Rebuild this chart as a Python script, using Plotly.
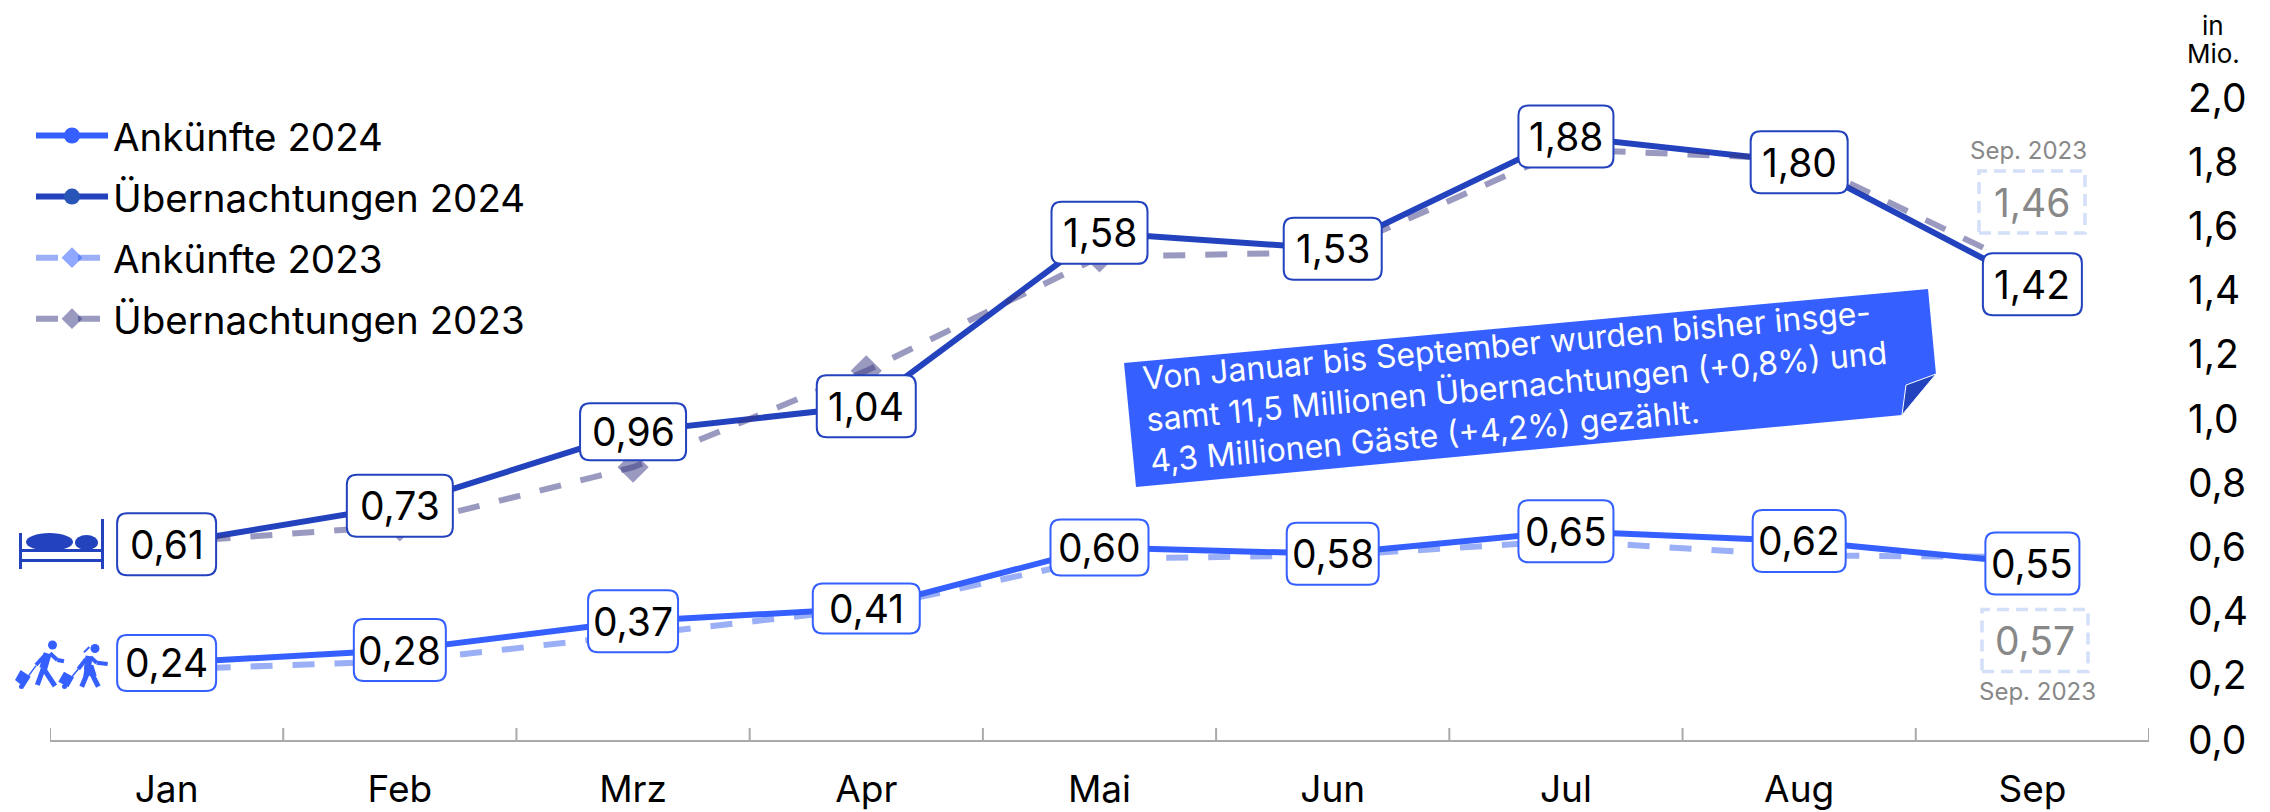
import plotly.graph_objects as go

months = ["Jan", "Feb", "Mrz", "Apr", "Mai", "Jun", "Jul", "Aug", "Sep"]
ankuenfte_2024 = [0.24, 0.28, 0.37, 0.41, 0.60, 0.58, 0.65, 0.62, 0.55]
uebernachtungen_2024 = [0.61, 0.73, 0.96, 1.04, 1.58, 1.53, 1.88, 1.80, 1.42]
ankuenfte_2023 = [0.22, 0.245, 0.327, 0.41, 0.565, 0.575, 0.62, 0.575, 0.57]
uebernachtungen_2023 = [0.615, 0.667, 0.85, 1.15, 1.505, 1.52, 1.84, 1.81, 1.46]

# label box sizes (px), one per month
ank_box_w = [99, 92, 90, 107, 98, 92, 95, 93, 94]
ank_box_h = [56, 62, 62, 50, 56, 62, 62, 62, 62]
ueb_box_w = [99, 106, 106, 99, 96, 98, 95, 97, 99]
ueb_box_h = [62, 62, 57, 62, 62, 62, 62, 62, 62]

FONT = "Inter"
C_ANK = "#3560ff"
C_UEB = "#2342be"
C_ANK_23 = "rgba(53,96,235,0.5)"
C_UEB_23 = "rgba(54,54,130,0.5)"
GREY = "#888888"

W, H = 2270, 812
PAGE_MARGIN = 8  # the page body offsets the figure by this much
L, T, R, B = 50, 98, 2149, 740


def PX(x):
    return (x - L) / (R - L)


def PY(y):
    return (B - y) / (B - T)


def fmt(v):
    return f"{v:.2f}".replace(".", ",")


def rounded(w, h, r=10):
    a, b = w / 2, h / 2
    return (f"M{-a + r},{-b} L{a - r},{-b} Q{a},{-b} {a},{-b + r} L{a},{b - r} Q{a},{b} {a - r},{b} "
            f"L{-a + r},{b} Q{-a},{b} {-a},{b - r} L{-a},{-b + r} Q{-a},{-b} {-a + r},{-b} Z")


def poly(points):
    return "M" + " L".join(f"{PX(x)},{PY(y)}" for x, y in points) + " Z"


fig = go.Figure()
series = [
    ("Ankünfte 2024", ankuenfte_2024, C_ANK, "solid", dict(symbol="circle", size=19, color=C_ANK)),
    ("Übernachtungen 2024", uebernachtungen_2024, C_UEB, "solid", dict(symbol="circle", size=19, color="#2a55b8")),
    ("Ankünfte 2023", ankuenfte_2023, C_ANK_23, "22px,20px",
     dict(symbol="diamond", size=24, color="rgba(53,96,255,0.55)", line=dict(color="rgba(53,96,235,0.5)", width=0))),
    ("Übernachtungen 2023", uebernachtungen_2023, C_UEB_23, "22px,20px",
     dict(symbol="diamond", size=24, color=C_UEB_23)),
]
for name, vals, col, dash, marker in series:
    fig.add_trace(go.Scatter(x=months, y=vals, name=name, mode="lines+markers", legendgroup=name,
                             line=dict(color=col, width=6, dash=dash), marker=marker, cliponaxis=False))

shapes = []
annotations = []


def note(x, y, text, size, color="black", **kw):
    annotations.append(dict(x=PX(x), y=PY(y), xref="paper", yref="paper", text=text, showarrow=False,
                            xanchor="center", yanchor="middle",
                            font=dict(family=FONT, size=size, color=color), **kw))


# month boundary ticks, crossing the axis line
for i in range(len(months) + 1):
    shapes.append(dict(type="line", xref="x", yref="y", xsizemode="scaled", ysizemode="pixel", yanchor=0,
                       x0=i - 0.5, x1=i - 0.5, y0=-12, y1=12, line=dict(color="#aaaaaa", width=2), layer="above"))

# value labels
for vals, widths, heights, col in [
    (ankuenfte_2024, ank_box_w, ank_box_h, C_ANK),
    (uebernachtungen_2024, ueb_box_w, ueb_box_h, C_UEB),
]:
    for i, v in enumerate(vals):
        shapes.append(dict(type="path", xref="x", yref="y", xsizemode="pixel", ysizemode="pixel",
                           xanchor=i, yanchor=v, path=rounded(widths[i], heights[i]),
                           fillcolor="white", line=dict(color=col, width=2), layer="above"))
        annotations.append(dict(x=i, y=v, xref="x", yref="y", text=fmt(v), showarrow=False,
                                xanchor="center", yanchor="middle",
                                font=dict(family=FONT, size=39, color="black")))

# previous-year boxes for September
for cx, cy, txt, lab_x, lab_y in [(2032, 202, "1,46", 2028, 151), (2035, 640.5, "0,57", 2037, 691)]:
    shapes.append(dict(type="rect", xref="paper", yref="paper", x0=PX(cx - 53), x1=PX(cx + 53),
                       y0=PY(cy + 31), y1=PY(cy - 31), line=dict(color="#d4e0f8", width=3.5, dash="12px,7px"),
                       layer="above"))
    note(cx, cy, txt, 39, GREY)
    note(lab_x, lab_y, "Sep. 2023", 24, GREY)

# unit label
note(2213, 25, "in", 26)
note(2213, 53, "Mio.", 26)

# ribbon note
shapes.append(dict(type="path", xref="paper", yref="paper", layer="above", fillcolor=C_ANK, line=dict(width=0),
                   path=poly([(1124, 363), (1928, 289), (1936, 374), (1902, 415), (1136, 487)])))
shapes.append(dict(type="path", xref="paper", yref="paper", layer="above", fillcolor=C_UEB,
                   line=dict(color="white", width=1),
                   path=poly([(1906, 385), (1936, 374), (1902, 415)])))
note(1516, 386,
     "Von Januar bis September wurden bisher insge-<br>"
     "samt 11,5 Millionen Übernachtungen (+0,8%) und<br>"
     "4,3 Millionen Gäste (+4,2%) gezählt.",
     32, "white", align="left", textangle=-5.2)


def z(x, y, oy=500):
    return x / 3, oy + y / 3


def rect(x0, y0, x1, y1, col):
    shapes.append(dict(type="rect", xref="paper", yref="paper", x0=PX(x0), x1=PX(x1), y0=PY(y1), y1=PY(y0),
                       fillcolor=col, line=dict(width=0), layer="above"))


def ellipse(x0, y0, x1, y1, col):
    shapes.append(dict(type="circle", xref="paper", yref="paper", x0=PX(x0), x1=PX(x1), y0=PY(y1), y1=PY(y0),
                       fillcolor=col, line=dict(width=0), layer="above"))


def stroke(pts, width, col=C_ANK):
    pts = [z(*p) for p in pts]
    for (a, b), (c, d) in zip(pts[:-1], pts[1:]):
        shapes.append(dict(type="line", xref="paper", yref="paper", x0=PX(a), x1=PX(c), y0=PY(b), y1=PY(d),
                           line=dict(color=col, width=width), layer="above"))


def fill(pts, col=C_ANK):
    shapes.append(dict(type="path", xref="paper", yref="paper", path=poly([z(*p) for p in pts]),
                       fillcolor=col, line=dict(width=0), layer="above"))


# bed icon
rect(19, 533, 22, 569, C_UEB)
rect(101, 519, 104, 569, C_UEB)
rect(22, 549, 101, 552, C_UEB)
rect(22, 559, 101, 562, C_UEB)
ellipse(26, 533, 73, 551, C_UEB)
ellipse(75, 535, 98, 550, C_UEB)

# travellers icon
ellipse(48, 640.5, 57, 649.5, C_ANK)
stroke([(143, 460), (130, 505)], 8)
stroke([(150, 460), (172, 480), (192, 484)], 4)
stroke([(138, 462), (108, 495)], 4)
stroke([(130, 505), (112, 555)], 5)
stroke([(130, 505), (165, 558)], 5)
fill([(45, 540), (62, 510), (92, 530), (72, 562)])
stroke([(80, 535), (108, 497)], 1.5)
ellipse(19, 684, 24, 689, C_ANK)

ellipse(90.5, 644, 99.5, 653, C_ANK)
stroke([(252, 457), (268, 441)], 2)
stroke([(267, 468), (262, 510)], 7)
fill([(255, 495), (280, 495), (290, 527), (250, 527)])
stroke([(272, 472), (290, 488), (323, 492)], 4)
stroke([(258, 477), (235, 507)], 4)
stroke([(262, 520), (245, 560)], 5)
stroke([(275, 520), (295, 560)], 5)
fill([(175, 545), (192, 515), (222, 532), (205, 562)])
stroke([(212, 535), (235, 507)], 1.5)
ellipse(62, 684, 67, 689, C_ANK)

fig.update_layout(
    width=W - PAGE_MARGIN, height=H - PAGE_MARGIN, autosize=False,
    margin=dict(l=L - PAGE_MARGIN, r=W - R, t=T - PAGE_MARGIN, b=H - B, pad=0, autoexpand=False),
    plot_bgcolor="white", paper_bgcolor="white",
    separators=",.",
    font=dict(family=FONT, color="black", size=38),
    showlegend=True,
    legend=dict(x=PX(31), xanchor="left", y=PY(104), yanchor="top", bgcolor="rgba(0,0,0,0)",
                itemwidth=72, tracegroupgap=8, font=dict(family=FONT, size=38.5, color="black"),
                itemclick=False, itemdoubleclick=False),
    xaxis=dict(type="category", categoryorder="array", categoryarray=months, range=[-0.5, 8.5],
               automargin=False, showgrid=False, zeroline=False, showline=True, linecolor="#aaaaaa", linewidth=2,
               ticks="", ticklabelstandoff=16, tickfont=dict(family=FONT, size=37, color="black")),
    yaxis=dict(range=[0, 2], tick0=0, dtick=0.2, side="right", tickformat=".1f", showgrid=False,
               automargin=False, zeroline=False, showline=False, ticks="", ticklabelstandoff=38,
               tickfont=dict(family=FONT, size=39, color="black")),
    shapes=shapes, annotations=annotations,
)

fig.write_html("out.html")
